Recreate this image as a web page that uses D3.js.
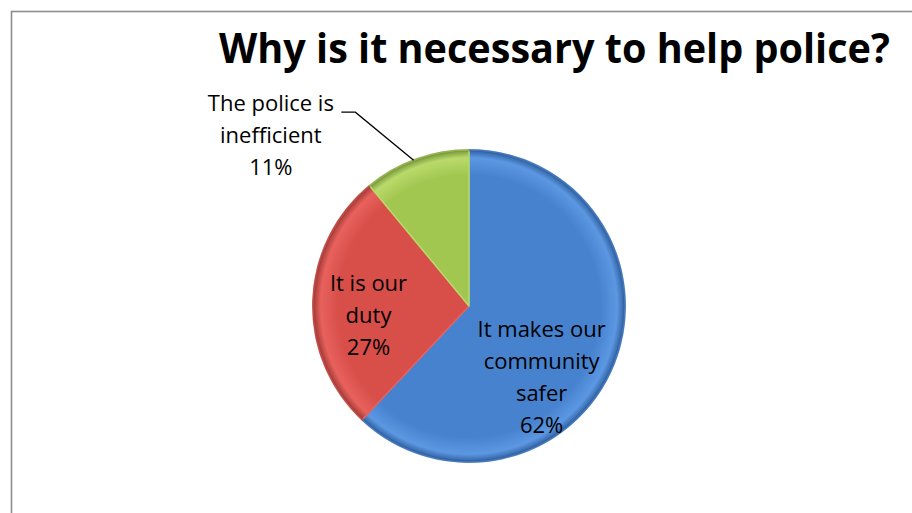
<!DOCTYPE html>
<html>
<head>
<meta charset="utf-8">
<script src="https://cdn.jsdelivr.net/npm/d3@7"></script>
<style>
  html, body { margin: 0; padding: 0; background: #fff; overflow: hidden; }
  svg { display: block; }
</style>
</head>
<body>
<svg id="chart" width="912" height="513"></svg>
<script>
// Survey answers: why helping the police is necessary
const categories = ["It makes our community safer", "It is our duty", "The police is inefficient"];
const values = [62, 27, 11];
const labelLines = [["It makes our", "community", "safer"], ["It is our", "duty"], ["The police is", "inefficient"]];
const title = "Why is it necessary to help police?";

const colors = [
  { light: "#5c97e2", base: "#4782cf", dark: "#2f5f9e" },
  { light: "#e8615c", base: "#d84f4a", dark: "#a23a36" },
  { light: "#b9da6a", base: "#a2c751", dark: "#76953a" }
];

const cx = 469, cy = 306, R = 156;
const font = "'Open Sans', Lato, sans-serif";

const svg = d3.select("#chart");

// chart area frame
svg.append("rect")
  .attr("x", 11.5).attr("y", 11.5)
  .attr("width", 1000).attr("height", 700)
  .attr("fill", "#fff")
  .attr("stroke", "#8d8d8d").attr("stroke-width", 1.6);

// title, condensed horizontally to fit its box
const titleWidth = 671;
const titleG = svg.append("g");
const titleText = titleG.append("text")
  .attr("x", 0).attr("y", 0)
  .attr("font-family", font)
  .attr("font-weight", 700)
  .attr("font-size", 42)
  .attr("fill", "#000")
  .text(title);
const natural = titleText.node().getComputedTextLength();
titleG.attr("transform", `translate(219,63) scale(${titleWidth / natural},1)`);

const defs = svg.append("defs");
colors.forEach((c, i) => {
  const grad = defs.append("radialGradient")
    .attr("id", "grad" + i)
    .attr("gradientUnits", "userSpaceOnUse")
    .attr("cx", 0).attr("cy", 0).attr("r", R);
  grad.append("stop").attr("offset", "0%").attr("stop-color", c.base);
  grad.append("stop").attr("offset", "84%").attr("stop-color", c.base);
  grad.append("stop").attr("offset", "95%").attr("stop-color", c.light);
  grad.append("stop").attr("offset", "100%").attr("stop-color", c.dark);
});

const pie = d3.pie().sort(null).value(d => d);
const arcs = pie(values);
const arc = d3.arc().innerRadius(0).outerRadius(R);

const g = svg.append("g").attr("transform", `translate(${cx},${cy})`);

g.selectAll("path.slice")
  .data(arcs)
  .join("path")
  .attr("class", "slice")
  .attr("d", arc)
  .attr("fill", (d, i) => `url(#grad${i})`)
  .attr("stroke", (d, i) => colors[i].light)
  .attr("stroke-width", 1.5)
  .attr("stroke-linejoin", "round");

// soft darker rim along the outside
g.selectAll("path.rim")
  .data(arcs)
  .join("path")
  .attr("class", "rim")
  .attr("d", d3.arc().innerRadius(R - 1.5).outerRadius(R + 1))
  .attr("fill", (d, i) => colors[i].dark)
  .attr("opacity", 0.55);

// label placement: angle (degrees clockwise from top) and distance from centre
const labelLayout = [
  { angle: 134.6, dist: 102 },
  { angle: 264.3, dist: 101 },
  { angle: 310.6, dist: 261 }
];
const lineH = 32;

const polar = (deg, r) => {
  const a = deg * Math.PI / 180;
  return [r * Math.sin(a), -r * Math.cos(a)];
};

const labels = g.selectAll("g.label")
  .data(arcs)
  .join("g")
  .attr("class", "label")
  .attr("transform", (d, i) => {
    const [x, y] = polar(labelLayout[i].angle, labelLayout[i].dist);
    return `translate(${x},${y})`;
  });

labels.each(function(d, i) {
  const lines = labelLines[i].concat([Math.round(d.value) + "%"]);
  const t = d3.select(this).append("text")
    .attr("text-anchor", "middle")
    .attr("font-family", font)
    .attr("font-size", 22)
    .attr("fill", "#000");
  lines.forEach((ln, k) => {
    t.append("tspan")
      .attr("x", 0)
      .attr("y", (k - (lines.length - 1) / 2) * lineH + 7)
      .text(ln);
  });
});

// leader line for the outside label
const green = arcs[2];
const gMid = (green.startAngle + green.endAngle) / 2 * 180 / Math.PI;
const tip = polar(gMid - 1, R);
const anchor = polar(labelLayout[2].angle, labelLayout[2].dist);
const startX = anchor[0] + 70.5, rowY = anchor[1] - 24;
g.append("polyline")
  .attr("points", [[startX, rowY], [startX + 14, rowY], tip].map(p => p.join(",")).join(" "))
  .attr("fill", "none")
  .attr("stroke", "#000")
  .attr("stroke-width", 1.3);
</script>
</body>
</html>
